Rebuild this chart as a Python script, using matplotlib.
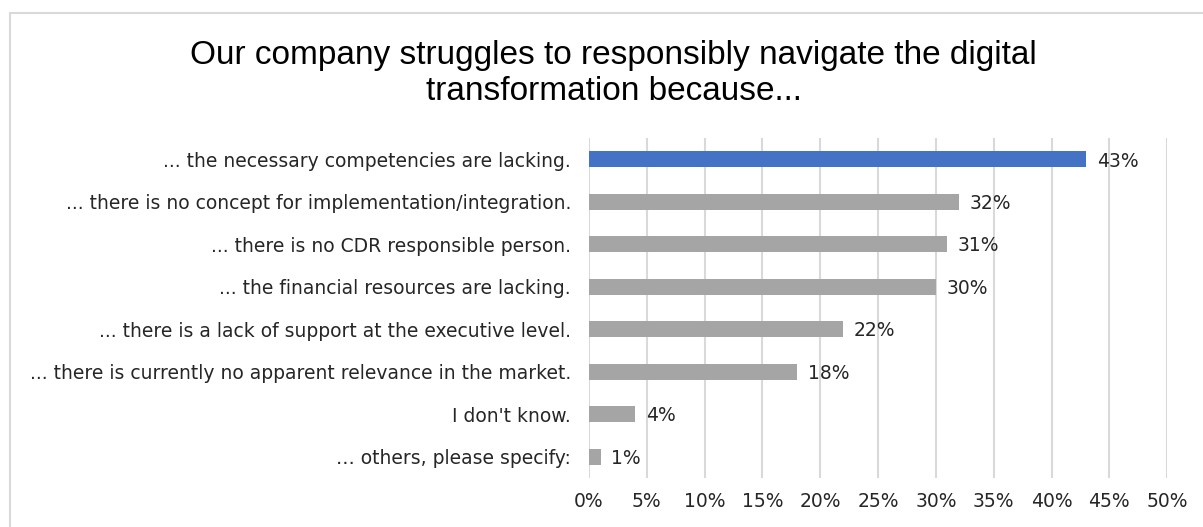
import matplotlib
matplotlib.use('Agg')
import matplotlib.pyplot as plt
from matplotlib.patches import Rectangle

categories = ['... the necessary competencies are lacking.',
              '... there is no concept for implementation/integration.',
              '... there is no CDR responsible person.',
              '... the financial resources are lacking.',
              '... there is a lack of support at the executive level.',
              '... there is currently no apparent relevance in the market.',
              "I don't know.",
              '… others, please specify:']
values = [43, 32, 31, 30, 22, 18, 4, 1]
colors = ['#4472C4'] + ['#A5A5A5'] * 7
xticks = [0, 5, 10, 15, 20, 25, 30, 35, 40, 45, 50]

plt.rcParams['font.family'] = ['DejaVu Sans']
label_font = 13.5

fig = plt.figure(figsize=(12.03, 5.27), dpi=100)
ax = fig.add_axes([0.4896, 0.093, 0.4806, 0.645])

# chart frame (cut off at right and bottom like the screenshot)
fig.patches.append(Rectangle((10 / 1203, -0.05), 1.2, 1 - 13 / 527 + 0.05,
                             transform=fig.transFigure, fill=False,
                             edgecolor='#D9D9D9', linewidth=1.5))

ypos = list(range(len(categories)))
ax.barh(ypos, values, height=0.37, color=colors, zorder=3)
for y, v in zip(ypos, values):
    ax.text(v + 0.9, y + 0.04, f'{v}%', va='center', ha='left', fontsize=label_font,
            color='#262626', zorder=4)

ax.set_xlim(0, 50)
ax.set_ylim(len(categories) - 0.5, -0.5)
ax.set_xticks(xticks)
ax.set_xticklabels([f'{t}%' for t in xticks], fontsize=label_font, color='#262626')
ax.set_yticks(ypos)
ax.set_yticklabels(categories, fontsize=label_font, color='#262626')
ax.tick_params(axis='both', length=0)
ax.tick_params(axis='y', pad=13)
ax.tick_params(axis='x', pad=10)
ax.grid(axis='x', color='#D9D9D9', linewidth=1.5, zorder=0)
for s in ax.spines.values():
    s.set_visible(False)

fig.text(0.51, 0.86, 'Our company struggles to responsibly navigate the digital\ntransformation because...',
         ha='center', va='center', fontsize=24, color='#000000', linespacing=1.2,
         family='Liberation Sans')

fig.savefig('out.png', dpi=100)
